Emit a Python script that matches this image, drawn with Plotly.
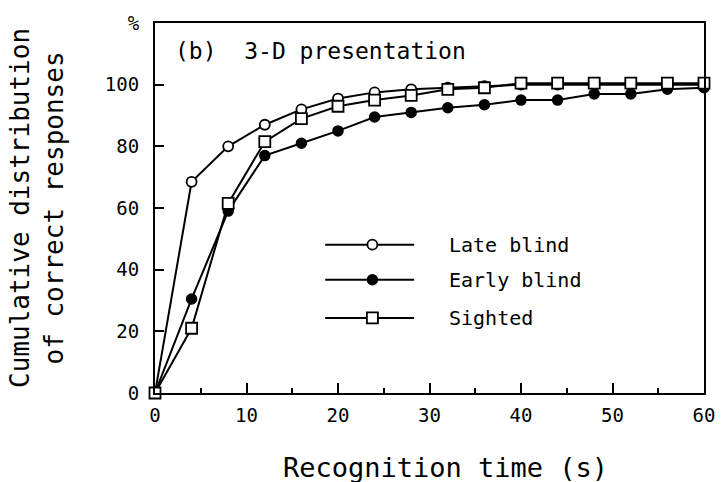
import plotly.graph_objects as go

# ---- data ----
time_s = [0, 4, 8, 12, 16, 20, 24, 28, 32, 36, 40, 44, 48, 52, 56, 60]
late_blind = [0, 68.5, 80, 87, 92, 95.5, 97.5, 98.5, 99, 99.5, 100, 100, 100, 100, 100, 100]
early_blind = [0, 30.5, 59, 77, 81, 85, 89.5, 91, 92.5, 93.5, 95, 95, 97, 97, 98.5, 99]
sighted = [0, 21, 61.5, 81.5, 89, 93, 95, 96.5, 98.5, 99, 100.5, 100.5, 100.5, 100.5, 100.5, 100.5]

series_names = ["Late blind", "Early blind", "Sighted"]
y_tickvals = [0, 20, 40, 60, 80, 100, 120]
y_ticktext = ["0", "20", "40", "60", "80", "100", "%"]
x_tickvals = [0, 10, 20, 30, 40, 50, 60]

FONT = "DejaVu Sans Mono"
W, H = 727, 482
L, R, T, B = 155, 16, 14, 89

styles = [
    dict(symbol="circle", size=10, color="white", line=dict(color="black", width=1.8)),
    dict(symbol="circle", size=10, color="black", line=dict(color="black", width=1.5)),
    dict(symbol="square", size=11, color="white", line=dict(color="black", width=1.8)),
]
values = [late_blind, early_blind, sighted]

fig = go.Figure()
for name, vals, mk in zip(series_names, values, styles):
    fig.add_trace(go.Scatter(
        x=time_s, y=vals, mode="lines+markers", name=name,
        line=dict(color="black", width=2), marker=mk,
        cliponaxis=False, showlegend=False,
    ))

# hand-drawn style legend on an overlay axis (paper-like 0..1 coordinates)
leg_y = [0.401, 0.306, 0.203]
leg_x0, leg_x1, leg_xm, leg_tx = 0.31, 0.472, 0.396, 0.5315
for name, mk, yy in zip(series_names, styles, leg_y):
    fig.add_trace(go.Scatter(
        x=[leg_x0, leg_xm, leg_x1], y=[yy, yy, yy], mode="lines",
        line=dict(color="black", width=2), xaxis="x2", yaxis="y2",
        showlegend=False, hoverinfo="skip"))
    fig.add_trace(go.Scatter(
        x=[leg_xm], y=[yy], mode="markers", marker=mk,
        xaxis="x2", yaxis="y2", showlegend=False, hoverinfo="skip"))
    fig.add_annotation(x=leg_tx, y=yy, xref="x2", yref="y2", text=name,
                       showarrow=False, xanchor="left", yanchor="middle",
                       font=dict(family=FONT, size=20, color="black"))

fig.add_annotation(x=0.0324, y=0.9235, xref="paper", yref="paper",
                   text="(b)  3-D presentation", showarrow=False,
                   xanchor="left", yanchor="middle",
                   font=dict(family=FONT, size=23, color="black"))

fig.add_annotation(x=-0.215, y=0.5, xref="paper", yref="paper",
                   text="Cumulative distribution<br>of correct responses",
                   textangle=-90, showarrow=False, xanchor="center", yanchor="middle",
                   font=dict(family=FONT, size=26, color="black"))

fig.add_annotation(x=0.53, y=-0.2, xref="paper", yref="paper",
                   text="Recognition time (s)", showarrow=False,
                   xanchor="center", yanchor="middle",
                   font=dict(family=FONT, size=27, color="black"))

fig.update_layout(
    width=W, height=H,
    margin=dict(l=L, r=R, t=T, b=B),
    paper_bgcolor="white", plot_bgcolor="white",
    font=dict(family=FONT, color="black"),
    xaxis=dict(range=[0, 60], tickvals=x_tickvals, ticks="inside", ticklen=10,
               tickwidth=1.5, tickcolor="black", showline=True, linecolor="black",
               linewidth=2, mirror=True, showgrid=False, zeroline=False,
               ticklabelstandoff=4,
               tickfont=dict(family=FONT, size=19, color="black"),
               minor=dict(dtick=5, ticks="inside", ticklen=5, tickcolor="black",
                          tickwidth=1.5, showgrid=False)),
    yaxis=dict(range=[0, 120], tickvals=y_tickvals, ticktext=y_ticktext,
               ticks="inside", ticklen=9, tickwidth=1.5, tickcolor="black",
               showline=True, linecolor="black", linewidth=2, mirror=True,
               showgrid=False, zeroline=False, ticklabelstandoff=10,
               tickfont=dict(family=FONT, size=19, color="black")),
    xaxis2=dict(range=[0, 1], overlaying="x", visible=False, fixedrange=True),
    yaxis2=dict(range=[0, 1], overlaying="y", visible=False, fixedrange=True),
)

fig.write_html("out.html")
